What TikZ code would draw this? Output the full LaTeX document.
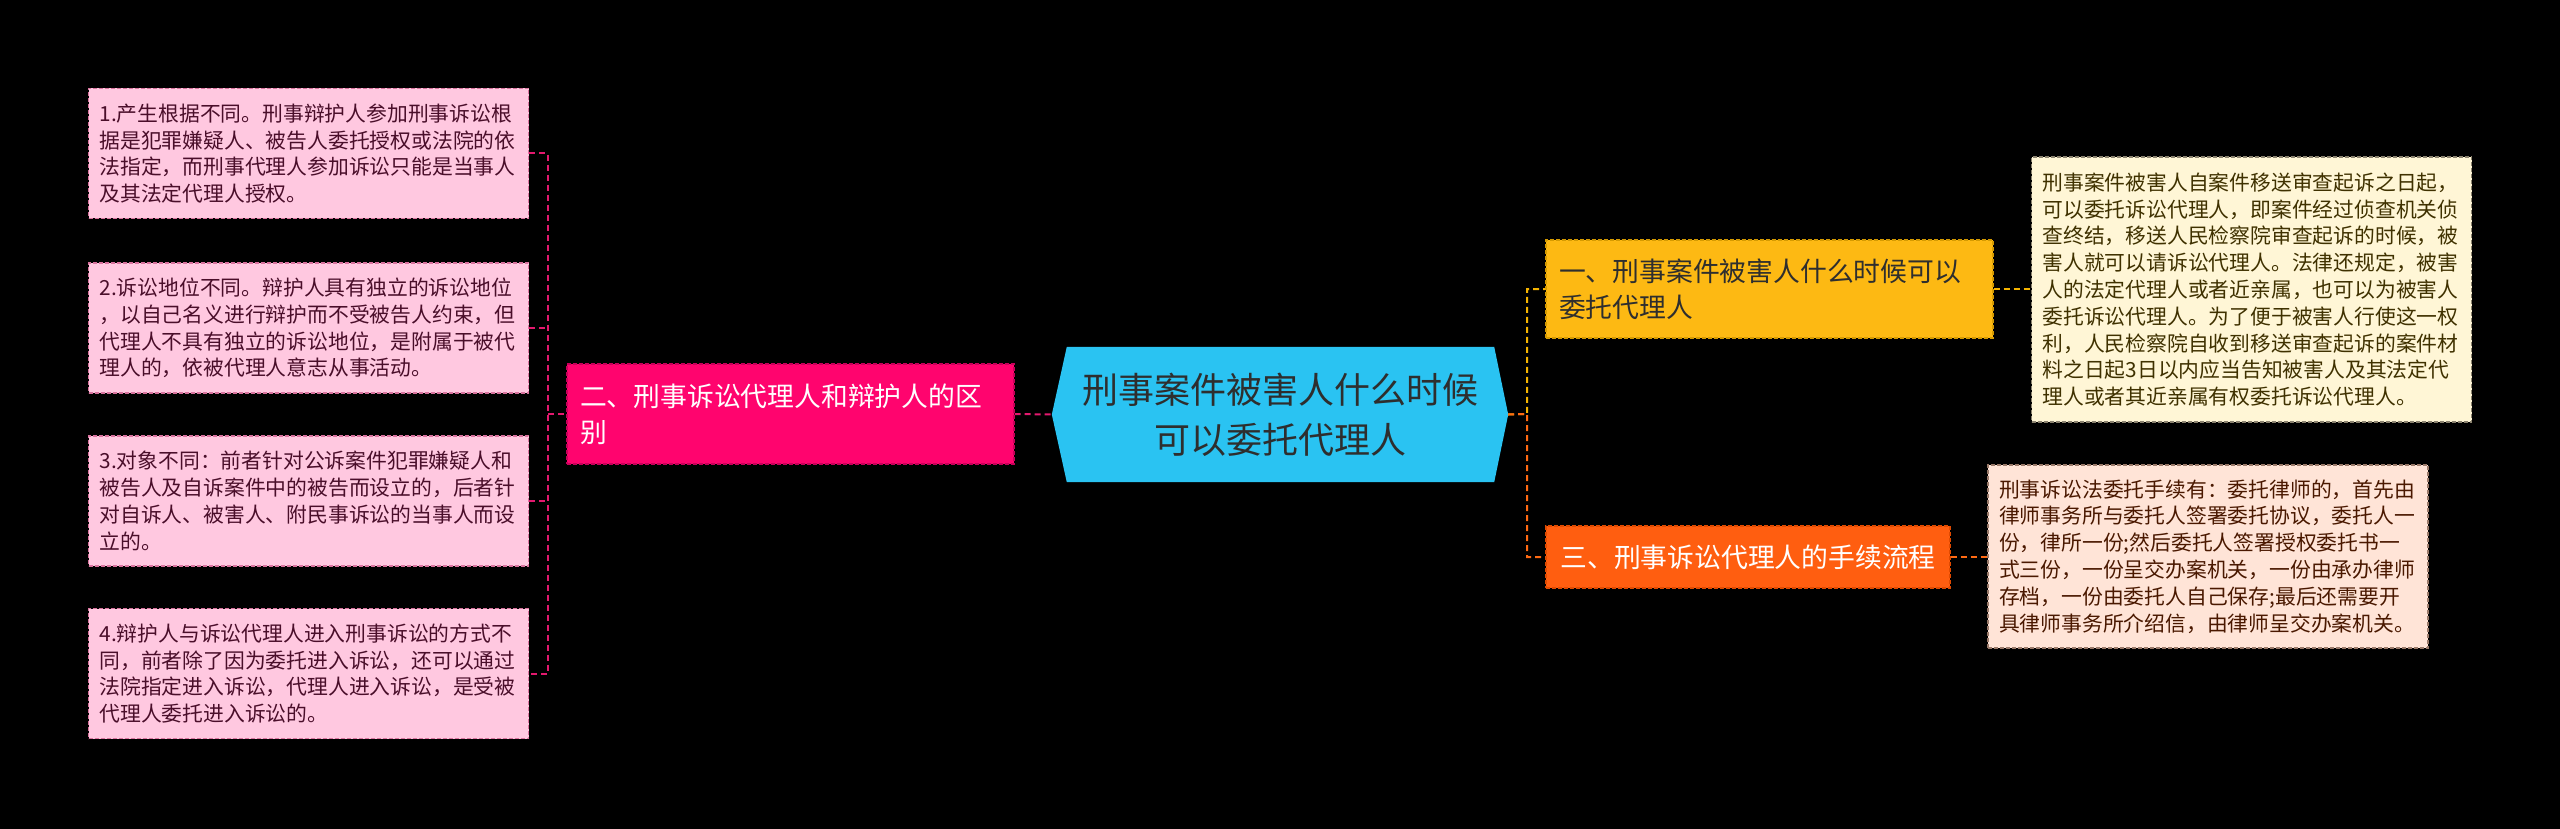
\documentclass[tikz,border=0pt]{standalone}
\usepackage{fontspec}
\setmainfont{Noto Sans CJK SC}
\usetikzlibrary{backgrounds}
\definecolor{cyanC}{HTML}{2AC3F2}
\definecolor{pinkB}{HTML}{FF046E}
\definecolor{pinkBd}{HTML}{C8005A}
\definecolor{pinkD}{HTML}{FFC8E0}
\definecolor{pinkDd}{HTML}{D9739E}
\definecolor{pinkT}{HTML}{4A0E2A}
\definecolor{pinkL}{HTML}{E3196E}
\definecolor{yellowB}{HTML}{FDB913}
\definecolor{yellowBd}{HTML}{D59A00}
\definecolor{yellowD}{HTML}{FFF6D6}
\definecolor{yellowDd}{HTML}{8C8470}
\definecolor{yellowT}{HTML}{3F3100}
\definecolor{yellowL}{HTML}{F5B400}
\definecolor{orangeB}{HTML}{FF5E10}
\definecolor{orangeBd}{HTML}{E04A00}
\definecolor{peachD}{HTML}{FFE4D7}
\definecolor{peachDd}{HTML}{9A7A6A}
\definecolor{peachT}{HTML}{4A1800}
\definecolor{orangeL}{HTML}{FF6A13}
\definecolor{darkT}{HTML}{2E2E2E}
\tikzset{
  boxdash/.style={dash pattern=on 4pt off 2pt, line width=1.1pt},
  detail/.style={rectangle, boxdash, inner xsep=11pt, inner ysep=0pt, align=left,
    text width=418pt, font=\fontsize{20.8}{26.8}\selectfont},
  pinkdetail/.style={detail, fill=pinkD, draw=pinkDd, text=pinkT, minimum height=130pt},
  branch/.style={rectangle, boxdash, inner xsep=13pt, inner ysep=0pt,
    font=\fontsize{26.8}{36}\selectfont},
  conn/.style={dash pattern=on 6pt off 4pt, line width=2pt},
}
\begin{document}
\begin{tikzpicture}[x=1pt,y=-1pt]
\begin{scope}[on background layer]
\fill[black] (0,0) rectangle (2560,829);
\end{scope}
\useasboundingbox (0,0) rectangle (2560,829);

% left details
\node[pinkdetail] (D1) at (308.5,153.5) {1.产生根据不同。刑事辩护人参加刑事诉讼根\\据是犯罪嫌疑人、被告人委托授权或法院的依\\法指定，而刑事代理人参加诉讼只能是当事人\\及其法定代理人授权。};
\node[pinkdetail] (D2) at (308.5,328) {2.诉讼地位不同。辩护人具有独立的诉讼地位\\，以自己名义进行辩护而不受被告人约束，但\\代理人不具有独立的诉讼地位，是附属于被代\\理人的，依被代理人意志从事活动。};
\node[pinkdetail] (D3) at (308.5,501) {3.对象不同：前者针对公诉案件犯罪嫌疑人和\\被告人及自诉案件中的被告而设立的，后者针\\对自诉人、被害人、附民事诉讼的当事人而设\\立的。};
\node[pinkdetail] (D4) at (308.5,673.5) {4.辩护人与诉讼代理人进入刑事诉讼的方式不\\同，前者除了因为委托进入诉讼，还可以通过\\法院指定进入诉讼，代理人进入诉讼，是受被\\代理人委托进入诉讼的。};

% left branch
\node[branch, fill=pinkB, draw=pinkBd, text=white, align=left, text width=421pt, minimum height=100pt] (B2) at (790.5,414) {二、刑事诉讼代理人和辩护人的区\\别};

% center
\node[rectangle, minimum width=456pt, minimum height=135pt, inner sep=0pt, align=center,
  text=darkT, font=\fontsize{36}{50}\selectfont] (C) at (1280,414.5) {刑事案件被害人什么时候\\可以委托代理人};
\begin{scope}[on background layer]
\fill[cyanC] (C.west) -- ([xshift=15pt]C.north west) -- ([xshift=-14pt]C.north east) -- (C.east)
  -- ([xshift=-14pt]C.south east) -- ([xshift=15pt]C.south west) -- cycle;
\end{scope}

% right branches
\node[branch, fill=yellowB, draw=yellowBd, text=darkT, align=left, text width=421pt, minimum height=98pt] (B1) at (1769.5,289) {一、刑事案件被害人什么时候可以\\委托代理人};
\node[branch, fill=orangeB, draw=orangeBd, text=white, align=center, minimum width=404pt, minimum height=62pt] (B3) at (1748,557) {三、刑事诉讼代理人的手续流程};

% right details
\node[detail, fill=yellowD, draw=yellowDd, text=yellowT, minimum height=265pt] (R1) at (2251.5,289.5) {刑事案件被害人自案件移送审查起诉之日起，\\可以委托诉讼代理人，即案件经过侦查机关侦\\查终结，移送人民检察院审查起诉的时候，被\\害人就可以请诉讼代理人。法律还规定，被害\\人的法定代理人或者近亲属，也可以为被害人\\委托诉讼代理人。为了便于被害人行使这一权\\利，人民检察院自收到移送审查起诉的案件材\\料之日起3日以内应当告知被害人及其法定代\\理人或者其近亲属有权委托诉讼代理人。};
\node[detail, fill=peachD, draw=peachDd, text=peachT, minimum height=183pt] (R3) at (2208,556.5) {刑事诉讼法委托手续有：委托律师的，首先由\\律师事务所与委托人签署委托协议，委托人一\\份，律所一份;然后委托人签署授权委托书一\\式三份，一份呈交办案机关，一份由承办律师\\存档，一份由委托人自己保存;最后还需要开\\具律师事务所介绍信，由律师呈交办案机关。};

% connectors left
\coordinate (LJ) at (548,414);
\draw[conn, pinkL] (D1.east) -- (D1.east -| LJ) -- (D4.east -| LJ) -- (D4.east);
\draw[conn, pinkL] (D2.east) -- (D2.east -| LJ);
\draw[conn, pinkL] (D3.east) -- (D3.east -| LJ);
\draw[conn, pinkL] (LJ) -- (B2.west);
\draw[conn, pinkL] (B2.east) -- (C.west);

% connectors right
\coordinate (RJ) at (1527,414);
\draw[conn, yellowL] (C.east) -- (RJ) -- (RJ |- B1.west) -- (B1.west);
\draw[conn, orangeL] (C.east) -- (RJ) -- (RJ |- B3.west) -- (B3.west);
\draw[conn, yellowL] (B1.east) -- (R1.west |- B1.east);
\draw[conn, orangeL] (B3.east) -- (R3.west |- B3.east);
\end{tikzpicture}
\end{document}
